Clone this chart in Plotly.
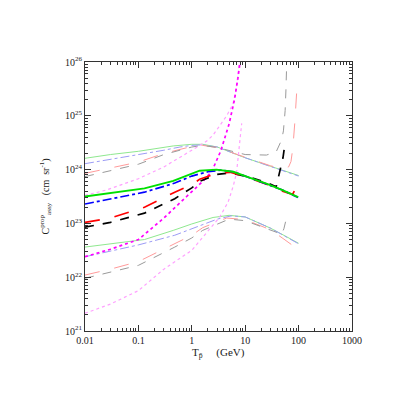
import numpy as np
import plotly.graph_objects as go

# kinetic energy (GeV) and log10 of C for each curve
up_green_T = [0.01, 0.03, 0.1, 0.25, 0.45, 1.0, 1.6, 3.0, 10, 30, 100]
up_green_C = [24.21, 24.28, 24.34, 24.40, 24.44, 24.47, 24.47, 24.42, 24.22, 24.06, 23.89]
up_blue_T = [0.01, 0.03, 0.1, 0.3, 0.6, 1.0, 1.6, 3.0, 10, 30, 100]
up_blue_C = [24.11, 24.19, 24.27, 24.36, 24.42, 24.45, 24.46, 24.42, 24.22, 24.06, 23.88]
up_red_T = [0.01, 0.03, 0.1, 0.3, 1.0, 1.6, 3.0, 10, 30, 50, 65, 72, 78, 85, 92]
up_red_C = [23.93, 24.03, 24.14, 24.30, 24.43, 24.45, 24.41, 24.23, 24.07, 24.02, 24.05, 24.15, 24.40, 24.88, 25.44]
up_gray_T = [0.01, 0.03, 0.1, 0.3, 1.0, 1.6, 3.0, 10, 18, 25, 38, 48, 52, 56, 58, 60]
up_gray_C = [23.87, 23.98, 24.10, 24.28, 24.42, 24.45, 24.41, 24.28, 24.27, 24.27, 24.33, 24.55, 24.72, 25.1, 25.5, 26.0]
up_pink_T = [0.01, 0.025, 0.1, 0.3, 1.0, 1.9, 2.5, 3.4, 4.5, 5.9, 6.8, 7.4, 7.7]
up_pink_C = [23.52, 23.62, 23.83, 24.05, 24.36, 24.53, 24.64, 24.82, 25.0, 25.22, 25.5, 25.8, 26.0]

mid_green_T = [0.01, 0.03, 0.13, 0.45, 0.7, 1.4, 2.9, 6.0, 12, 25, 50, 98]
mid_green_C = [23.50, 23.57, 23.65, 23.79, 23.86, 23.98, 24.00, 23.96, 23.85, 23.74, 23.62, 23.49]
mid_blue_T = [0.01, 0.03, 0.13, 0.48, 1.0, 2.0, 3.5, 6.0, 12, 25, 50, 98]
mid_blue_C = [23.36, 23.46, 23.58, 23.75, 23.88, 23.96, 23.99, 23.96, 23.85, 23.74, 23.62, 23.48]
mid_red_T = [0.01, 0.03, 0.13, 0.48, 1.0, 1.4, 2.9, 5.2, 10, 25, 50, 68, 77, 85, 95]
mid_red_C = [23.02, 23.10, 23.30, 23.58, 23.72, 23.82, 23.93, 23.95, 23.87, 23.73, 23.60, 23.56, 23.54, 23.62, 23.87]
mid_black_T = [0.01, 0.03, 0.13, 0.48, 1.0, 1.4, 2.9, 5.2, 12, 25, 38, 44, 51, 55]
mid_black_C = [22.93, 23.02, 23.19, 23.46, 23.66, 23.78, 23.91, 23.94, 23.86, 23.76, 23.68, 23.95, 24.22, 24.45]
mid_mag_T = [0.01, 0.03, 0.1, 0.3, 0.8, 1.6, 2.35, 3.5, 5.0, 6.3, 7.3, 8.0]
mid_mag_C = [22.38, 22.52, 22.70, 23.10, 23.50, 23.78, 23.96, 24.35, 24.85, 25.3, 25.7, 26.0]

lo_green_T = [0.01, 0.03, 0.13, 0.45, 1.0, 2.5, 5.0, 10, 30, 60, 100]
lo_green_C = [22.56, 22.62, 22.70, 22.87, 22.99, 23.11, 23.15, 23.12, 22.91, 22.75, 22.63]
lo_blue_T = [0.01, 0.03, 0.1, 0.48, 1.6, 3.0, 5.5, 10, 30, 60, 100]
lo_blue_C = [22.38, 22.48, 22.60, 22.78, 22.97, 23.08, 23.14, 23.12, 22.91, 22.75, 22.62]
lo_red_T = [0.01, 0.03, 0.1, 0.48, 1.0, 1.6, 4.5, 10, 30, 51, 75, 91, 98]
lo_red_C = [22.04, 22.15, 22.29, 22.63, 22.78, 22.92, 23.10, 23.07, 22.88, 22.72, 22.60, 22.50, 22.63]
lo_gray_T = [0.01, 0.03, 0.1, 0.48, 1.0, 1.6, 5.0, 10, 30, 48, 53, 57]
lo_gray_C = [21.98, 22.09, 22.22, 22.56, 22.73, 22.87, 23.08, 23.05, 22.88, 22.80, 22.90, 23.03]
lo_pink_T = [0.01, 0.03, 0.1, 0.3, 1.0, 2.0, 3.35, 4.8, 6.0, 6.9, 7.8, 8.6]
lo_pink_C = [21.33, 21.50, 21.75, 22.15, 22.50, 22.85, 23.12, 23.40, 23.70, 23.95, 24.40, 24.86]

x_ticks = [0.01, 0.1, 1, 10, 100, 1000]
x_labels = ["0.01", "0.1", "1", "10", "100", "1000"]
y_exps = [21, 22, 23, 24, 25, 26]

curves = [
    # light (upper / lower groups)
    (up_green_T, up_green_C, "#8fe88f", "solid", 1),
    (up_blue_T, up_blue_C, "#9c9cf5", "dashdot", 1),
    (up_red_T, up_red_C, "#ff9a9a", "longdash", 1),
    (up_gray_T, up_gray_C, "#9a9a9a", "dash", 1),
    (up_pink_T, up_pink_C, "#ffa0ff", "dot", 1.2),
    (lo_green_T, lo_green_C, "#8fe88f", "solid", 1),
    (lo_blue_T, lo_blue_C, "#9c9cf5", "dashdot", 1),
    (lo_red_T, lo_red_C, "#ff9a9a", "longdash", 1),
    (lo_gray_T, lo_gray_C, "#9a9a9a", "dash", 1),
    (lo_pink_T, lo_pink_C, "#ffa0ff", "dot", 1.2),
    # bold (middle group)
    (mid_mag_T, mid_mag_C, "#ff00ff", "dot", 1.7),
    (mid_black_T, mid_black_C, "#000000", "dash", 1.7),
    (mid_red_T, mid_red_C, "#ff0000", "longdash", 1.7),
    (mid_blue_T, mid_blue_C, "#0000ff", "dashdot", 1.7),
    (mid_green_T, mid_green_C, "#00e000", "solid", 1.9),
]

fig = go.Figure()
for t, c, col, dash, w in curves:
    fig.add_trace(go.Scatter(
        x=t, y=10.0 ** np.array(c), mode="lines",
        line=dict(color=col, dash=dash, width=w),
        showlegend=False, hoverinfo="skip"))

x_minor = [m * 10.0 ** e for e in range(-2, 3) for m in range(2, 10)]
y_minor = [m * 10.0 ** e for e in range(21, 26) for m in range(2, 10)]

axis_style = dict(
    type="log", showgrid=False, zeroline=False,
    showline=True, linecolor="#333333", linewidth=1, mirror="allticks",
    ticks="inside", ticklen=6, tickcolor="#333333",
    tickfont=dict(family="Liberation Serif", size=10, color="#222222"),
)

fig.update_xaxes(
    **axis_style, range=[-2, 3], tickmode="array",
    tickvals=x_ticks, ticktext=x_labels,
    minor=dict(tickmode="array", tickvals=x_minor, ticks="inside", ticklen=3, tickcolor="#333333"),
)
fig.update_yaxes(
    **axis_style, range=[21, 26], tickmode="array",
    tickvals=[10.0 ** e for e in y_exps],
    ticktext=["10<sup>%d</sup>" % e for e in y_exps],
    minor=dict(tickmode="array", tickvals=y_minor, ticks="inside", ticklen=3, tickcolor="#333333"),
)

fig.add_annotation(
    text="T<sub>p̄</sub>&nbsp;&nbsp;&nbsp;&nbsp;&nbsp;(GeV)", xref="paper", yref="paper",
    x=0.5, y=-0.082, showarrow=False, yanchor="middle",
    font=dict(family="Liberation Serif", size=11, color="#222222"))
fig.add_annotation(
    text="C<sup>prop</sup><sub>assy</sub>&nbsp;&nbsp;&nbsp;(cm&nbsp;&nbsp;sr<sup>-1</sup>)",
    xref="paper", yref="paper",
    x=-0.15, y=0.5, showarrow=False, textangle=-90, xanchor="center",
    font=dict(family="Liberation Serif", size=10, color="#222222"))

# page body adds an 8px offset, so the figure is drawn 8px smaller
fig.update_layout(
    width=407, height=407, autosize=False,
    margin=dict(l=77, r=63, t=54, b=84),
    paper_bgcolor="white", plot_bgcolor="white",
    font=dict(family="Liberation Serif"),
)

fig.write_html("out.html")
